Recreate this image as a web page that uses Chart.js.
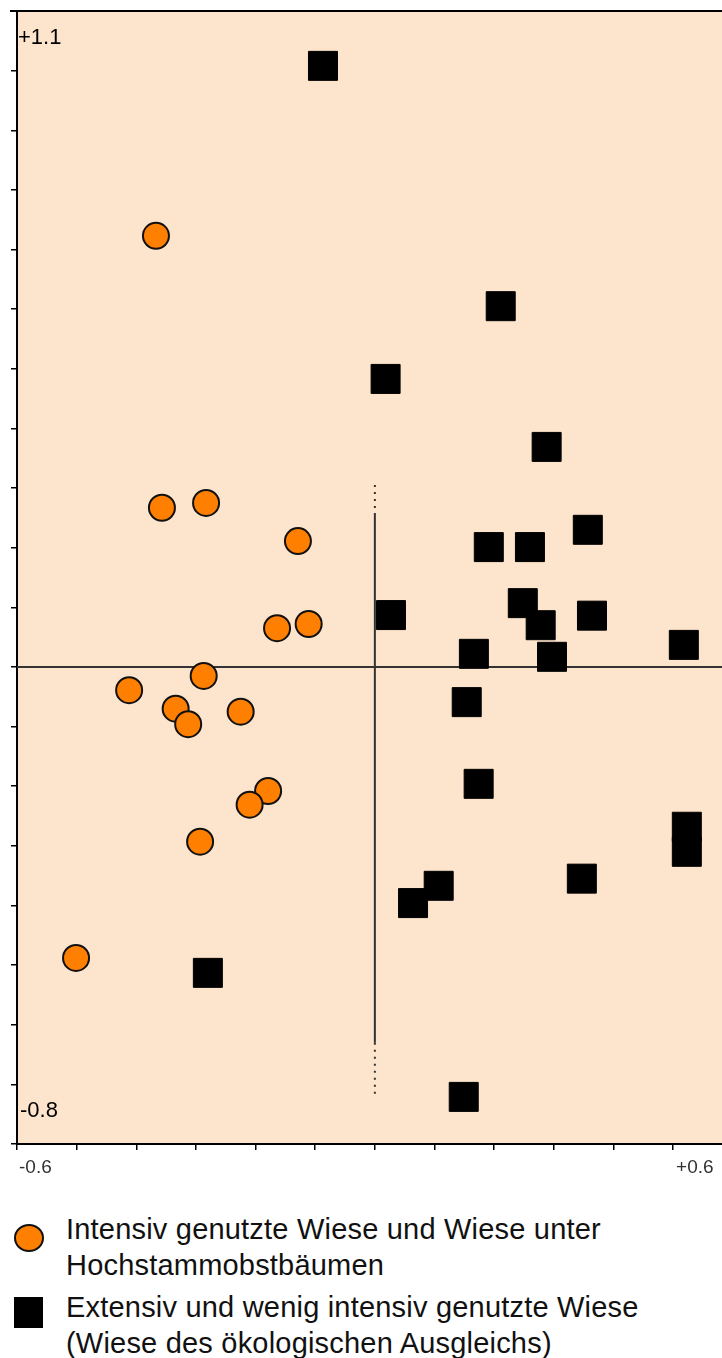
<!DOCTYPE html>
<html>
<head>
<meta charset="utf-8">
<script src="https://cdn.jsdelivr.net/npm/chart.js@4/dist/chart.umd.min.js"></script>
<style>
  body { margin: 0; background: #fff; font-family: "Liberation Sans", Arial, Helvetica, sans-serif; }
  #wrap { position: relative; width: 722px; height: 1358px; }
  #c { position: absolute; left: 0; top: 0; }
  .mark { position: absolute; }
  .txt { position: absolute; left: 66px; font-size: 29px; line-height: 36px; color: #111; white-space: nowrap; letter-spacing: 0.2px; }
</style>
</head>
<body>
<div id="wrap">
  <canvas id="c" width="722" height="1190"></canvas>
  <div class="mark" style="left:14px;top:1224px;width:26px;height:24px;border-radius:50%;background:#ff7f00;border:2px solid #111;"></div>
  <div class="txt" id="l1" style="top:1211px;"></div>
  <div class="mark" style="left:14px;top:1297px;width:29px;height:31px;background:#000;"></div>
  <div class="txt" id="l2" style="top:1289px;"></div>
</div>
<script>
// Achsenwerte
const xTicks = [-0.6, -0.5, -0.4, -0.3, -0.2, -0.1, 0, 0.1, 0.2, 0.3, 0.4, 0.5]
const yTicks = [-0.8, -0.7, -0.6, -0.5, -0.4, -0.3, -0.2, -0.1, 0, 0.1, 0.2, 0.3, 0.4, 0.5, 0.6, 0.7, 0.8, 0.9, 1.0, 1.1]
const axisLabels = ['-0.6', '+0.6', '+1.1', '-0.8']

const seriesNames = [
  ['Intensiv genutzte Wiese und Wiese unter', 'Hochstammobstbäumen'],
  ['Extensiv und wenig intensiv genutzte Wiese', '(Wiese des ökologischen Ausgleichs)']
]

// intensive Wiesen (Kreise)
const intensivX = [-0.367, -0.357, -0.283, -0.129, -0.164, -0.111, -0.287, -0.412, -0.334, -0.313, -0.225, -0.179, -0.210, -0.293, -0.501]
const intensivY = [0.723, 0.267, 0.275, 0.211, 0.065, 0.072, -0.015, -0.039, -0.070, -0.096, -0.075, -0.208, -0.231, -0.293, -0.488]

// extensive Wiesen (Quadrate)
const extensivX = [-0.087, 0.211, 0.018, 0.288, 0.357, 0.191, 0.260, 0.027, 0.248, 0.278, 0.364, 0.518, 0.166, 0.297, 0.154, 0.174, 0.523, 0.523, 0.347, 0.107, 0.064, -0.280, 0.149]
const extensivY = [1.008, 0.605, 0.483, 0.369, 0.230, 0.201, 0.201, 0.087, 0.107, 0.070, 0.086, 0.037, 0.022, 0.017, -0.059, -0.196, -0.268, -0.310, -0.355, -0.367, -0.396, -0.513, -0.721]

// senkrechte Nulllinie: durchgezogen / gepunktet
const vLineSolid = [0.255, -0.63]
const vLineDotted = [0.305, -0.72]

document.getElementById('l1').innerHTML = seriesNames[0].join('<br>')
document.getElementById('l2').innerHTML = seriesNames[1].join('<br>')

const toPoints = (xs, ys) => xs.map((x, i) => ({ x: x, y: ys[i] }))

const frame = {
  id: 'frame',
  beforeDraw(chart) {
    const { ctx, chartArea: a } = chart
    ctx.save()
    ctx.fillStyle = '#fde4cc'
    ctx.fillRect(a.left, a.top, a.right - a.left, a.bottom - a.top)
    ctx.restore()
  },
  beforeDatasetsDraw(chart) {
    const { ctx, chartArea: a, scales } = chart
    const x0 = scales.x.getPixelForValue(0)
    const y0 = scales.y.getPixelForValue(0)
    ctx.save()
    ctx.strokeStyle = '#333'
    ctx.lineWidth = 2
    ctx.beginPath()
    ctx.moveTo(a.left, y0)
    ctx.lineTo(a.right, y0)
    ctx.moveTo(x0, scales.y.getPixelForValue(vLineSolid[0]))
    ctx.lineTo(x0, scales.y.getPixelForValue(vLineSolid[1]))
    ctx.stroke()
    ctx.setLineDash([2, 5])
    ctx.beginPath()
    ctx.moveTo(x0, scales.y.getPixelForValue(vLineDotted[0]))
    ctx.lineTo(x0, scales.y.getPixelForValue(vLineSolid[0]))
    ctx.moveTo(x0, scales.y.getPixelForValue(vLineSolid[1]))
    ctx.lineTo(x0, scales.y.getPixelForValue(vLineDotted[1]))
    ctx.stroke()
    ctx.restore()
  },
  afterDraw(chart) {
    const { ctx, chartArea: a, scales } = chart
    ctx.save()
    // obere Begrenzung
    ctx.strokeStyle = '#000'
    ctx.lineWidth = 2
    ctx.beginPath()
    ctx.moveTo(a.left - 7, a.top)
    ctx.lineTo(a.right, a.top)
    ctx.stroke()

    ctx.textBaseline = 'alphabetic'
    ctx.textAlign = 'left'
    ctx.font = '19px "Liberation Sans", Arial, sans-serif'
    ctx.fillStyle = '#333'
    ctx.fillText(axisLabels[0], scales.x.getPixelForValue(-0.6) + 2, a.bottom + 29)
    ctx.fillText(axisLabels[1], scales.x.getPixelForValue(0.5) + 3, a.bottom + 29)
    ctx.font = '22px "Liberation Sans", Arial, sans-serif'
    ctx.fillStyle = '#000'
    ctx.fillText(axisLabels[2], a.left + 1, scales.y.getPixelForValue(1.1) + 33)
    ctx.fillText(axisLabels[3], a.left + 3, scales.y.getPixelForValue(-0.8) - 27)
    ctx.restore()
  }
}

const ctx = document.getElementById('c').getContext('2d')
const myChart = new Chart(ctx, {
  type: 'scatter',
  data: {
    datasets: [
      {
        label: seriesNames[1].join(' '),
        data: toPoints(extensivX, extensivY),
        pointStyle: 'rect',
        pointRadius: 20.5,
        backgroundColor: '#000',
        borderColor: '#000',
        borderWidth: 1
      },
      {
        label: seriesNames[0].join(' '),
        data: toPoints(intensivX, intensivY),
        pointStyle: 'circle',
        pointRadius: 13,
        backgroundColor: '#ff7f00',
        borderColor: '#111',
        borderWidth: 2
      }
    ]
  },
  options: {
    responsive: false,
    animation: false,
    events: [],
    layout: { autoPadding: false, padding: { top: 11, right: 0, left: 0, bottom: 0 } },
    plugins: {
      legend: { display: false },
      tooltip: { enabled: false }
    },
    scales: {
      x: {
        type: 'linear',
        min: -0.6,
        max: 0.582,
        afterBuildTicks: s => { s.ticks = xTicks.map(v => ({ value: v })) },
        afterFit: s => { s.height = 46 },
        ticks: { display: false },
        grid: { drawOnChartArea: false, drawTicks: true, tickLength: 6, color: '#000', lineWidth: 1.5 },
        border: { display: true, color: '#000', width: 2 }
      },
      y: {
        type: 'linear',
        min: -0.8,
        max: 1.1,
        afterBuildTicks: s => { s.ticks = yTicks.map(v => ({ value: v })) },
        afterFit: s => { s.width = 17 },
        ticks: { display: false },
        grid: { drawOnChartArea: false, drawTicks: true, tickLength: 6, color: '#000', lineWidth: 1.5 },
        border: { display: true, color: '#000', width: 2 }
      }
    }
  },
  plugins: [frame]
})
</script>
</body>
</html>
